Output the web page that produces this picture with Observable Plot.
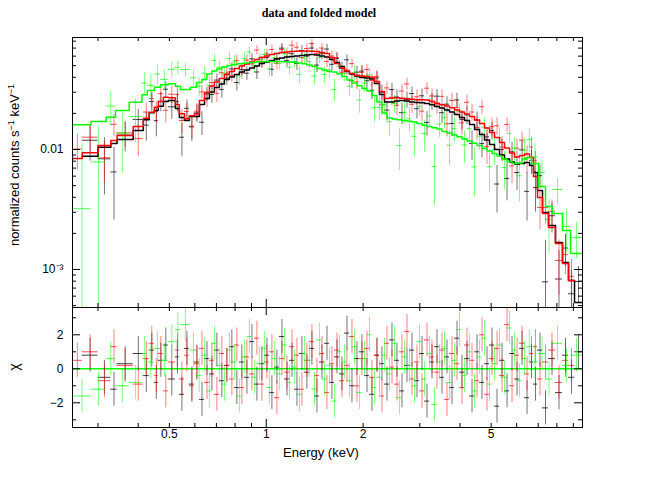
<!DOCTYPE html>
<html><head><meta charset="utf-8">
<script src="https://cdn.jsdelivr.net/npm/d3@7"></script>
<script src="https://cdn.jsdelivr.net/npm/@observablehq/plot@0.6"></script>
<style>
body{margin:0;background:#fff;}
#wrap{position:relative;width:662px;height:491px;font-family:"Liberation Sans",Arial,sans-serif;color:#000;overflow:hidden;}
#topc,#botc{position:absolute;left:0;}
#topc{top:0px}
#botc{top:306px}
.lbl{position:absolute;white-space:nowrap;}
#title{left:219px;width:200px;top:6px;text-align:center;font:bold 12px "Liberation Serif","Times New Roman",serif;}
#ylab{left:14px;top:165px;transform:translate(-50%,-50%) rotate(-90deg);font-size:13px;}
#ylab sup{font-size:9px;vertical-align:5px;line-height:0;}
#chi{left:14px;top:367px;transform:translate(-50%,-50%) rotate(-90deg);font-size:14px;}
#xlab{left:321px;top:452px;transform:translate(-50%,-50%);font-size:13px;}
</style></head>
<body><div id="wrap">
<div id="topc"></div><div id="botc"></div>
<div class="lbl" id="title">data and folded model</div>
<div class="lbl" id="ylab">normalized counts s<sup>−1</sup> keV<sup>−1</sup></div>
<div class="lbl" id="chi">χ</div>
<div class="lbl" id="xlab">Energy (keV)</div>
</div>
<script>
// ---------- DATA ----------
// bin edges in keV
const blackEdges = [0.268, 0.300, 0.329, 0.344, 0.386, 0.415, 0.433, 0.449, 0.462, 0.479, 0.496, 0.522, 0.537, 0.557, 0.577, 0.598, 0.620,
  0.643, 0.666, 0.690, 0.715, 0.741, 0.768, 0.796, 0.825, 0.855, 0.887,
  0.919, 0.952, 0.987, 1.023, 1.060, 1.099, 1.139, 1.181, 1.224, 1.268,
  1.314, 1.362, 1.412, 1.463, 1.517, 1.572, 1.629, 1.689, 1.750, 1.814,
  1.880, 1.948, 2.019, 2.093, 2.169, 2.248, 2.330, 2.415, 2.503, 2.594,
  2.689, 2.787, 2.888, 2.994, 3.103, 3.216, 3.333, 3.454, 3.580, 3.711,
  3.846, 3.986, 4.131, 4.282, 4.438, 4.600, 4.767, 4.941, 5.121, 5.308,
  5.501, 5.702, 5.909, 6.125, 6.348, 6.579,
  6.768, 6.964, 7.218, 7.536, 7.921, 8.328, 8.695, 9.077, 9.610];
const redEdges = [0.250, ...blackEdges.slice(0, -1)];
const greenEdges = [0.251, 0.2855, 0.318, 0.340, 0.375, 0.411, 0.427, 0.449, 0.469, 0.496, 0.522, 0.541, 0.581, 0.607, 0.631,
  0.654, 0.678, 0.702, 0.728, 0.755, 0.782, 0.811, 0.840, 0.871, 0.902,
  0.935, 0.969, 1.005, 1.041, 1.079, 1.119, 1.160, 1.202, 1.246, 1.291,
  1.338, 1.387, 1.437, 1.490, 1.544, 1.600, 1.659, 1.719, 1.782, 1.847,
  1.914, 1.984, 2.056, 2.131, 2.208, 2.289, 2.372, 2.459, 2.548, 2.641,
  2.737, 2.837, 2.940, 3.048, 3.159, 3.274, 3.393, 3.517, 3.645, 3.778,
  3.915, 4.058, 4.206, 4.359, 4.518, 4.683, 4.853, 5.030, 5.213, 5.403,
  5.600, 5.804, 6.016, 6.235, 6.462,
  6.672, 7.015, 7.375, 7.754, 8.328, 8.820, 9.610];

// folded model, normalized counts s^-1 keV^-1, one value per bin
const blackModel = [0.00879, 0.01045, 0.01122, 0.01212, 0.0144, 0.01768, 0.02022, 0.02113, 0.02296, 0.02512, 0.0256, 0.02196, 0.01848, 0.01745, 0.01884, 0.01884,
  0.02371, 0.02661, 0.03013, 0.03286, 0.03513, 0.03831, 0.04019, 0.04217, 0.04424, 0.04597,
  0.04777, 0.04963, 0.05207, 0.0536, 0.05516, 0.05678, 0.05788, 0.059, 0.05957, 0.06015,
  0.06072, 0.06131, 0.0619, 0.06131, 0.06015, 0.059, 0.05623, 0.05309, 0.04917, 0.04467,
  0.04257, 0.04096, 0.03981, 0.03943, 0.03868, 0.03548, 0.02873, 0.02488, 0.02488, 0.02536,
  0.0256, 0.02536, 0.02488, 0.02464, 0.0245, 0.02417, 0.02358, 0.02282, 0.02217, 0.02134,
  0.02054, 0.01957, 0.01848, 0.01745, 0.01616, 0.01468, 0.01334, 0.012, 0.01101, 0.01,
  0.009, 0.00834, 0.00787, 0.00757, 0.00764, 0.00779,
  0.00736, 0.00643, 0.00455, 0.00299, 0.00233, 0.00168, 0.001144, 0.00081, 0.00053];
const redModel = [0.00841, 0.00939, 0.0108, 0.0119, 0.01309, 0.01555, 0.01823, 0.02045, 0.02251, 0.02512, 0.02728, 0.02697, 0.02371, 0.01984, 0.01802, 0.01909, 0.01984,
  0.0256, 0.02985, 0.03381, 0.03652, 0.03906, 0.04217, 0.04467, 0.04732, 0.04963, 0.05158,
  0.0536, 0.05623, 0.05843, 0.06015, 0.0619, 0.0631, 0.06432, 0.06494, 0.06556, 0.06594,
  0.06619, 0.06619, 0.06594, 0.06556, 0.06432, 0.0631, 0.05843, 0.05207, 0.04777, 0.0451,
  0.04299, 0.0416, 0.04096, 0.04057, 0.04003, 0.03687, 0.03043, 0.02661, 0.02687, 0.02697,
  0.02671, 0.02645, 0.0262, 0.02595, 0.02595, 0.02585, 0.02512, 0.02427, 0.02358, 0.02304,
  0.02226, 0.02134, 0.02054, 0.01976, 0.01884, 0.01762, 0.01648, 0.0151, 0.01386, 0.01259,
  0.01144, 0.01029, 0.00935, 0.00866, 0.00891, 0.00917,
  0.00858, 0.00596, 0.00398, 0.00293, 0.00224, 0.00165, 0.00112, 0.00081];
const greenModel = [0.01607, 0.01711, 0.01858, 0.02113, 0.02479, 0.02857, 0.03102, 0.03305, 0.03461, 0.03528, 0.0337, 0.03162, 0.03305, 0.03617,
  0.03831, 0.04257, 0.0451, 0.04686, 0.0487, 0.05012, 0.05109, 0.05178, 0.05239, 0.05289,
  0.0534, 0.05391, 0.05412, 0.05412, 0.05412, 0.05412, 0.05391, 0.0536, 0.0534, 0.0526,
  0.05178, 0.0506, 0.04917, 0.04732, 0.04597, 0.04467, 0.04424, 0.04257, 0.04057, 0.03795,
  0.03583, 0.03395, 0.03224, 0.03073, 0.02818, 0.02488, 0.02014, 0.0183, 0.01796, 0.01772,
  0.01748, 0.01721, 0.01695, 0.01648, 0.01595, 0.01556, 0.0152, 0.01482, 0.01413, 0.01372,
  0.01321, 0.01276, 0.01223, 0.01177, 0.01126, 0.0108, 0.01019, 0.00972, 0.00926, 0.00883,
  0.00834, 0.00794, 0.00764, 0.00772, 0.00834,
  0.00858, 0.00764, 0.00491, 0.00335, 0.00293, 0.00211, 0.00136];

// residuals chi = (data - model) / error, one value per bin
const blackChi = [0.8, -0.5, -1.2, 0.3, 0.9, -0.4, 1.1, -0.8, 0.5, 1.4, -0.6, 0.7, -1.5, 1.2, -0.9, 0.4,
  -1.8, 0.6, -0.3, 1.1, -0.7, 0.2, 1.3, -1.1, 0.4, -0.5,
  1.6, -0.9, 0.3, 0.8, -1.4, 0.1, 1.9, -0.6, 0.5, -1.2,
  0.9, -0.2, 1.2, -1.6, 0.4, 1.5, -0.8, 0.7, -0.3, 2.1,
  -1.0, 0.6, 1.0, -0.4, -1.5, 0.8, 0.3, -0.9, 1.7, 0.5,
  -1.3, 0.2, 1.1, -0.7, 0.9, -1.9, 0.4, 1.3, -0.5, 0.7,
  -1.1, 1.8, -0.2, 0.6, -1.6, 1.0, -0.8, 0.3, 1.4, -2.2,
  0.5, -1.3, 0.9, -0.6, 1.2, -1.7,
  0.4, -0.9, 1.1, -2.3, 0.6, -1.4, 0.8, -0.5, 1.0];
const redChi = [0.5, 1.0, -0.7, 1.3, 0.2, -0.9, 0.6, 1.5, -0.4, 0.9, -1.3, 0.4, 1.1, -0.6, 0.8, -1.0, 0.3,
  1.2, -0.8, 0.5, -1.5, 0.9, 0.2, -0.6, 1.4, -1.1, 0.7,
  -0.3, 1.8, -0.9, 0.4, 1.0, -1.7, 0.6, -0.2, 1.3, 0.8,
  -1.2, 0.5, 1.6, -0.4, 0.9, -1.4, 0.3, 1.1, -0.7, 0.2,
  1.9, -1.0, 0.6, 1.2, -0.5, 0.8, -1.6, 1.5, 0.1, -0.9,
  1.0, 2.2, -0.6, 0.4, -1.3, 1.7, 0.7, -0.2, 1.1, -1.8,
  0.9, 0.3, -1.1, 1.4, 0.5, -0.7, 2.0, -1.5, 0.6, 1.2,
  -0.4, 2.6, -1.0, 0.8, 1.5, -0.3,
  0.9, 1.3, -0.6, 0.4, 1.1, -0.8, 0.5, 0.2];
const greenChi = [-1.6, -1.2, 0.6, -1.0, -0.8, 0.9, 0.4, 1.2, 0.5, 1.6, 2.3, 2.6, 1.1, -0.4,
  0.8, -1.3, 1.5, 0.2, -0.9, 1.1, 0.4, -1.6, 0.7, 1.9,
  -0.5, 0.3, 1.2, -1.1, 0.6, -0.3, 1.4, -0.8, 0.1, -1.5,
  0.9, 0.5, -1.2, 1.7, -0.6, 0.2, -1.9, 1.0, 0.4, -0.7,
  1.3, -1.4, 0.6, 2.0, -1.1, -0.5, 0.8, -0.3, 1.5, -1.7,
  0.7, 0.2, -1.0, 1.6, -0.6, 0.9, -2.1, 0.4, 1.2, -0.8,
  0.5, 2.3, -0.4, 1.0, -1.3, 0.7, 1.8, -0.9, 0.3, 1.4,
  -0.5, 2.4, 1.1, -0.7, 0.6,
  1.3, 0.4, 0.9, -0.6, 1.5, 0.2, 0.8];

// 1-sigma errors, percent of model, one value per bin
const blackErrPct = [45, 40, 35, 30, 26, 24, 22, 22, 20, 19, 19, 20, 21, 22, 20, 18,
  16, 15, 15, 14, 14, 13, 13, 13, 12, 12,
  12, 12, 11, 11, 11, 11, 11, 11, 11, 11,
  11, 11, 11, 11, 11, 11, 11, 12, 12, 12,
  12, 13, 13, 13, 13, 14, 15, 16, 16, 16,
  16, 16, 16, 16, 16, 16, 17, 17, 17, 17,
  18, 18, 18, 19, 19, 20, 20, 21, 22, 22,
  23, 24, 24, 25, 25, 25,
  26, 28, 30, 32, 34, 36, 40, 45, 50];
const redErrPct = [40, 35, 30, 28, 26, 23, 21, 20, 19, 18, 17, 18, 19, 20, 19, 18, 17,
  15, 14, 14, 13, 13, 12, 12, 12, 11, 11,
  11, 11, 10, 10, 10, 10, 10, 10, 10, 10,
  10, 10, 10, 10, 10, 10, 10, 11, 11, 11,
  11, 12, 12, 12, 12, 13, 14, 15, 15, 15,
  15, 15, 15, 15, 15, 15, 16, 16, 16, 16,
  17, 17, 17, 18, 18, 19, 19, 20, 20, 21,
  21, 22, 22, 23, 23, 24,
  25, 27, 29, 31, 33, 35, 38, 42];
const greenErrPct = [50, 45, 40, 35, 30, 28, 26, 24, 22, 20, 19, 18, 18, 17,
  16, 15, 15, 14, 14, 13, 13, 13, 13, 12,
  12, 12, 12, 12, 12, 12, 12, 12, 13, 13,
  13, 13, 14, 14, 14, 15, 15, 15, 16, 16,
  17, 17, 18, 18, 19, 20, 22, 23, 23, 23,
  24, 24, 24, 24, 25, 25, 25, 25, 26, 26,
  26, 27, 27, 27, 28, 28, 28, 29, 29, 30,
  30, 30, 31, 31, 31,
  32, 33, 35, 37, 39, 42, 45];

// axis ticks and tick labels
const xLabelTicks = [0.5, 1, 2, 5];
const xLabelText = ["0.5", "1", "2", "5"];
const xMajorTicks = [1];
const xMinorTicks = [0.3, 0.4, 0.5, 0.6, 0.7, 0.8, 0.9, 2, 3, 4, 5, 6, 7, 8, 9];
const yTopMajor = [0.01, 0.001];
const yTopLabelText = ["0.01", "10⁻³"];
const yTopMinor = [0.0005, 0.0006, 0.0007, 0.0008, 0.0009, 0.002, 0.003, 0.004, 0.005, 0.006, 0.007, 0.008, 0.009,
  0.02, 0.03, 0.04, 0.05, 0.06, 0.07, 0.08];
const yResMajor = [-2, 0, 2];
const yResLabelText = ["−2", "0", "2"];
const yResMinor = [-3, -1, 1, 3];

// ---------- BUILD ----------
const colors = {black: "#000000", red: "#ff0000", green: "#00ff00"};
function makeBins(edges, model, chi, pct) {
  const n = Math.min(edges.length - 1, model.length, chi.length, pct.length);
  const out = [];
  for (let i = 0; i < n; i++) {
    const lo = edges[i], hi = edges[i + 1], m = model[i];
    const s = m * pct[i] / 100;
    out.push({lo, hi, x: Math.sqrt(lo * hi), m, s, d: m + chi[i] * s, chi: chi[i]});
  }
  return out;
}
const sets = [
  {c: colors.black, op: 0.55, b: makeBins(blackEdges, blackModel, blackChi, blackErrPct)},
  {c: colors.red, op: 0.5, b: makeBins(redEdges, redModel, redChi, redErrPct)},
  {c: colors.green, op: 0.5, b: makeBins(greenEdges, greenModel, greenChi, greenErrPct)}
];
function stepLine(b) {
  return [...b.map(o => ({x: o.lo, y: o.m})), {x: b[b.length - 1].hi, y: b[b.length - 1].m}];
}

const W = 662, ML = 72, MR = 80;
const PW = W - ML - MR;
const xDomain = [0.25, 9.61];
const topH = 308, topMT = 37, topMB = 1, topPH = topH - topMT - topMB;
const botH = 185, botMT = 1, botMB = 64, botPH = botH - botMT - botMB;
const styleObj = {fontFamily: "'Liberation Sans', Arial, sans-serif", fontSize: "12px", color: "#000", background: "transparent", overflow: "visible"};

function xTicks(ph) {
  return [
    Plot.ruleX(xMinorTicks, {x: d => d, insetBottom: ph - 4, stroke: "#000"}),
    Plot.ruleX(xMinorTicks, {x: d => d, insetTop: ph - 4, stroke: "#000"}),
    Plot.ruleX(xMajorTicks, {x: d => d, insetBottom: ph - 8, stroke: "#000"}),
    Plot.ruleX(xMajorTicks, {x: d => d, insetTop: ph - 8, stroke: "#000"})
  ];
}
function yTicks(major, minor) {
  return [
    Plot.ruleY(minor, {y: d => d, insetRight: PW - 4, stroke: "#000"}),
    Plot.ruleY(minor, {y: d => d, insetLeft: PW - 4, stroke: "#000"}),
    Plot.ruleY(major, {y: d => d, insetRight: PW - 8, stroke: "#000"}),
    Plot.ruleY(major, {y: d => d, insetLeft: PW - 8, stroke: "#000"})
  ];
}
function yLabels(vals, texts) {
  return Plot.text(vals, {y: d => d, text: (d, i) => texts[i], frameAnchor: "left", dx: -9, textAnchor: "end", fill: "#000", fontSize: 12});
}

const topMarks = [];
for (const s of sets) {
  topMarks.push(Plot.ruleX(s.b, {x: "x", y1: d => Math.max(d.d - d.s, 1e-5), y2: d => d.d + d.s, stroke: s.c, strokeOpacity: s.op, clip: true}));
  topMarks.push(Plot.ruleY(s.b, {y: "d", x1: "lo", x2: "hi", stroke: s.c, strokeOpacity: Math.min(1, s.op + 0.2), clip: true}));
}
for (const s of sets) {
  topMarks.push(Plot.line(stepLine(s.b), {x: "x", y: "y", curve: "step-after", stroke: s.c, strokeWidth: 1.5, clip: true}));
}
const topChart = Plot.plot({
  width: W, height: topH, marginLeft: ML, marginRight: MR, marginTop: topMT, marginBottom: topMB,
  style: styleObj,
  x: {type: "log", domain: xDomain, axis: null},
  y: {type: "log", domain: [4.825e-4, 0.0858], axis: null},
  marks: [
    ...topMarks,
    ...xTicks(topPH),
    ...yTicks(yTopMajor, yTopMinor),
    yLabels(yTopMajor, yTopLabelText),
    Plot.frame({stroke: "#000", strokeWidth: 1})
  ]
});
document.getElementById("topc").appendChild(topChart);

const botMarks = [Plot.ruleY([0], {stroke: colors.green, strokeWidth: 1.5})];
for (const s of sets) {
  botMarks.push(Plot.ruleX(s.b, {x: "x", y1: d => d.chi - 1, y2: d => d.chi + 1, stroke: s.c, strokeOpacity: s.op, clip: true}));
  botMarks.push(Plot.ruleY(s.b, {y: "chi", x1: "lo", x2: "hi", stroke: s.c, strokeOpacity: Math.min(1, s.op + 0.2), clip: true}));
}
const botChart = Plot.plot({
  width: W, height: botH, marginLeft: ML, marginRight: MR, marginTop: botMT, marginBottom: botMB,
  style: styleObj,
  x: {type: "log", domain: xDomain, axis: null},
  y: {domain: [-3.453, 3.606], axis: null},
  marks: [
    ...botMarks,
    ...xTicks(botPH),
    ...yTicks(yResMajor, yResMinor),
    yLabels(yResMajor, yResLabelText),
    Plot.text(xLabelTicks, {x: d => d, text: (d, i) => xLabelText[i], frameAnchor: "bottom", dy: 10, fill: "#000", fontSize: 12}),
    Plot.frame({stroke: "#000", strokeWidth: 1})
  ]
});
document.getElementById("botc").appendChild(botChart);
</script>
</body></html>
